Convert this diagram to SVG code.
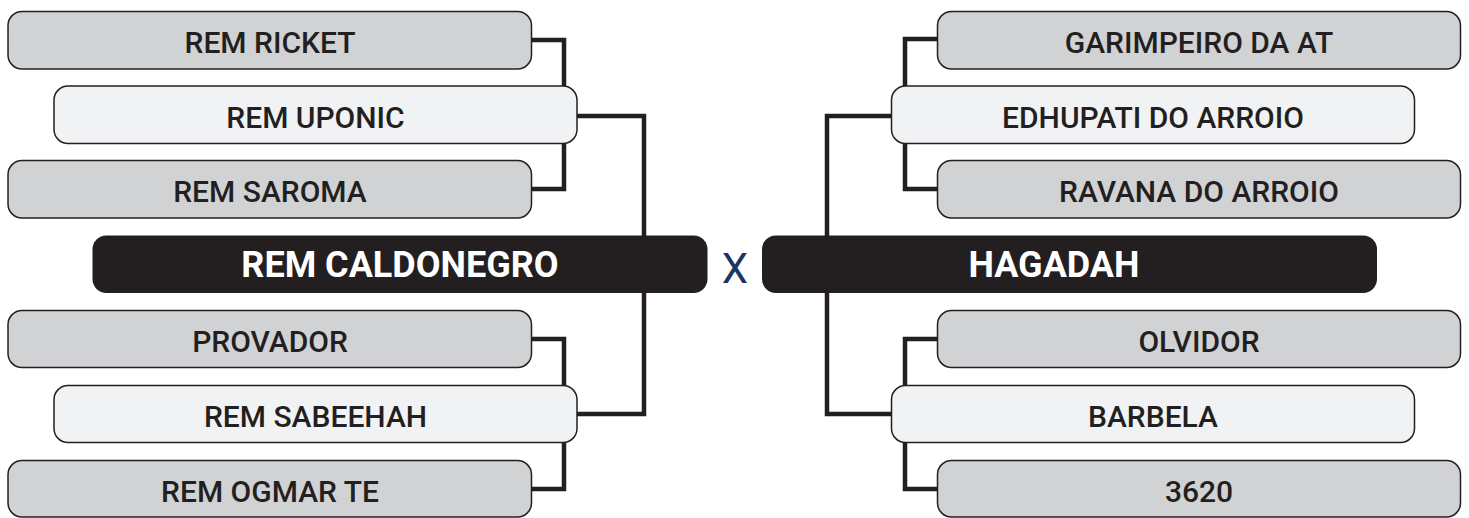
<svg xmlns="http://www.w3.org/2000/svg" width="1469" height="518" viewBox="0 0 1469 518">
<style>
.g{fill:#d1d2d4;stroke:#231f20;stroke-width:1.5}
.l{fill:#f1f2f3;stroke:#231f20;stroke-width:1.5}
.b{fill:#231f20}
.t{font-family:Roboto,"Liberation Sans",sans-serif;font-weight:500;font-size:30px;fill:#231f20;text-anchor:middle}
.tb{font-family:Roboto,"Liberation Sans",sans-serif;font-weight:700;font-size:36px;fill:#ffffff;text-anchor:middle}
.c{fill:none;stroke:#231f20;stroke-width:4.5}
</style>
<rect width="1469" height="518" fill="#ffffff"/>
<g id="connectors">
<path class="c" d="M531,40 H564 V86"/>
<path class="c" d="M564,143 V189 H531"/>
<path class="c" d="M577,116 H644 V236"/>
<path class="c" d="M644,293 V414 H577"/>
<path class="c" d="M531,339 H564 V386"/>
<path class="c" d="M564,442 V489 H531"/>
<path class="c" d="M938,39 H905 V86"/>
<path class="c" d="M905,143 V189 H938"/>
<path class="c" d="M891,116 H827 V236"/>
<path class="c" d="M827,293 V414 H891"/>
<path class="c" d="M938,339 H905 V386"/>
<path class="c" d="M905,442 V489 H938"/>
</g>
<g id="n-rem-ricket"><rect class="g" x="8" y="11.5" width="523.5" height="57.5" rx="14"/><text class="t" x="270" y="53">REM RICKET</text></g>
<g id="n-rem-uponic"><rect class="l" x="54" y="86" width="523" height="57.5" rx="14"/><text class="t" x="315.5" y="127.5">REM UPONIC</text></g>
<g id="n-rem-saroma"><rect class="g" x="8" y="160.5" width="523.5" height="57.5" rx="14"/><text class="t" x="270" y="202">REM SAROMA</text></g>
<g id="n-rem-caldonegro"><rect class="b" x="92.5" y="235.5" width="615" height="57.5" rx="14"/><text class="tb" x="400" y="277">REM CALDONEGRO</text></g>
<g id="n-provador"><rect class="g" x="8" y="310.5" width="523.5" height="57" rx="14"/><text class="t" x="270" y="352">PROVADOR</text></g>
<g id="n-rem-sabeehah"><rect class="l" x="54" y="385.5" width="523" height="57" rx="14"/><text class="t" x="315.5" y="427">REM SABEEHAH</text></g>
<g id="n-rem-ogmar-te"><rect class="g" x="8" y="460.5" width="523.5" height="56.5" rx="14"/><text class="t" x="270" y="502">REM OGMAR TE</text></g>
<g id="n-x"><text x="735" y="283" style="font-family:Roboto,'Liberation Sans',sans-serif;font-weight:400;font-size:42px;fill:#1b3663;text-anchor:middle">X</text></g>
<g id="n-garimpeiro"><rect class="g" x="937.5" y="11.5" width="523" height="57.5" rx="14"/><text class="t" x="1199" y="53">GARIMPEIRO DA AT</text></g>
<g id="n-edhupati"><rect class="l" x="891.5" y="86" width="523" height="57.5" rx="14"/><text class="t" x="1153" y="127.5">EDHUPATI DO ARROIO</text></g>
<g id="n-ravana"><rect class="g" x="937.5" y="160.5" width="523" height="57.5" rx="14"/><text class="t" x="1199" y="202">RAVANA DO ARROIO</text></g>
<g id="n-hagadah"><rect class="b" x="762" y="235.5" width="615" height="57.5" rx="14"/><text class="tb" x="1054" y="277">HAGADAH</text></g>
<g id="n-olvidor"><rect class="g" x="937.5" y="310.5" width="523" height="57" rx="14"/><text class="t" x="1199" y="352">OLVIDOR</text></g>
<g id="n-barbela"><rect class="l" x="891.5" y="385.5" width="523" height="57" rx="14"/><text class="t" x="1153" y="427">BARBELA</text></g>
<g id="n-3620"><rect class="g" x="937.5" y="460.5" width="523" height="56.5" rx="14"/><text class="t" x="1199" y="502">3620</text></g>
</svg>
